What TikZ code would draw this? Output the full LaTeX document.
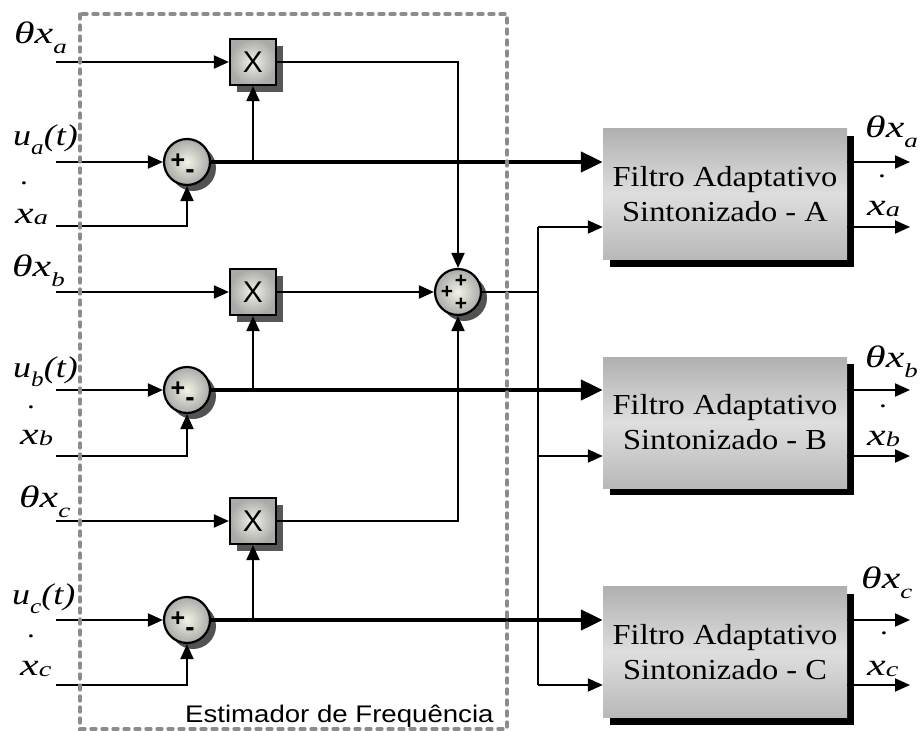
\documentclass[tikz,border=0pt]{standalone}
\usepackage{fontspec}
\setmainfont{Liberation Serif}[FakeStretch=1.2]
\newfontfamily\labf{Liberation Serif}[FakeStretch=1.35]
\newfontfamily\filtf{Liberation Serif}[FakeStretch=1.12]
\newfontfamily\sansf{Liberation Sans}
\newfontfamily\sansw{Liberation Sans}[FakeStretch=1.15]
\usetikzlibrary{arrows.meta,shadows,calc}
\definecolor{glow}{RGB}{242,242,230}
\definecolor{gedge}{RGB}{170,170,168}
\definecolor{ftop}{RGB}{176,176,176}
\definecolor{fmid}{RGB}{222,222,222}
\definecolor{fbot}{RGB}{184,184,184}
\definecolor{dashgray}{RGB}{140,140,140}
\newcommand{\lab}[2]{\labf\fontsize{31}{31}\selectfont\itshape #1\raisebox{-10pt}{\fontsize{20}{20}\selectfont #2}}
\newcommand{\labx}[2]{\labf\fontsize{31}{31}\selectfont\itshape #1\raisebox{-1.5pt}{\fontsize{21}{21}\selectfont #2}}
\newcommand{\labu}[1]{\fontsize{30}{30}\selectfont\itshape u\raisebox{-9pt}{\fontsize{21}{21}\selectfont #1}(t)}
\newcommand{\derdot}{\fontsize{26}{26}\selectfont .}
\tikzset{
  wire/.style={line width=2pt},
  arr/.style={line width=2pt, -{Triangle[length=15pt,width=13pt]}},
  barr/.style={line width=4.5pt, -{Triangle[length=22pt,width=20pt]}},
  xbox/.style={rectangle, draw, line width=2.2pt, minimum size=46pt, inner sep=0pt,
    inner color=glow, outer color=gedge,
    drop shadow={shadow xshift=7pt, shadow yshift=-7pt, fill=black!66, opacity=1},
    font=\sansf\fontsize{30}{30}\selectfont},
  sumc/.style={circle, draw, line width=2.2pt, minimum size=46pt, inner sep=0pt,
    inner color=glow, outer color=gedge,
    drop shadow={shadow xshift=6pt, shadow yshift=-6pt, fill=black!68, opacity=1}},
  sgn/.style={inner sep=0pt, font=\sansf\bfseries\fontsize{25}{25}\selectfont},
  sgs/.style={inner sep=0pt, font=\sansf\bfseries\fontsize{21}{21}\selectfont},
  msgn/.style={inner sep=0pt, font=\sansf\bfseries\fontsize{28}{28}\selectfont},
  filt/.style={rectangle, minimum width=244pt, minimum height=131pt, inner sep=0pt,
    top color=ftop, bottom color=fbot, middle color=fmid, align=center,
    drop shadow={shadow xshift=7pt, shadow yshift=-7pt, fill=black, opacity=1},
    font=\filtf\fontsize{29}{35}\selectfont},
  lbl/.style={anchor=base west, inner sep=0pt},
  dashbox/.style={draw=dashgray, line width=3.3pt, line cap=round, dash pattern=on 5pt off 6pt}
}
\begin{document}
\begin{tikzpicture}[x=1pt,y=-1pt]
\useasboundingbox (0,0) rectangle (922,731);
% blocks
\node[xbox] (Xa) at (253,62) {X};
\node[xbox] (Xb) at (253,292) {X};
\node[xbox] (Xc) at (253,521) {X};
\node[sumc] (Sa) at (187,162) {};
\node[sumc] (Sb) at (187,390) {};
\node[sumc] (Sc) at (187,620) {};
\node[sumc] (S3) at (458,292) {};
\foreach \s in {Sa,Sb,Sc}{
  \node[sgn] at ($(\s)+(-9,-1)$) {+};
  \node[msgn] at ($(\s)+(3,12)$) {-};
}
\node[sgs] at ($(S3)+(3,-11)$) {+};
\node[sgs] at ($(S3)+(-11,0)$) {+};
\node[sgs] at ($(S3)+(3,12)$) {+};
\node[filt] (FA) at (725,194) {Filtro Adaptativo\\Sintonizado - A};
\node[filt] (FB) at (725,422.5) {Filtro Adaptativo\\Sintonizado - B};
\node[filt] (FC) at (725,652) {Filtro Adaptativo\\Sintonizado - C};
% coordinates
\coordinate (ita) at (56,62);  \coordinate (iua) at (56,162); \coordinate (ixa) at (56,226);
\coordinate (itb) at (56,292); \coordinate (iub) at (56,390); \coordinate (ixb) at (56,456);
\coordinate (itc) at (56,521); \coordinate (iuc) at (56,620); \coordinate (ixc) at (56,685);
\coordinate (bA) at (538,227); \coordinate (bB) at (538,456); \coordinate (bC) at (538,685);
\coordinate (oA1) at (910,162); \coordinate (oA2) at (910,227);
\coordinate (oB1) at (910,390); \coordinate (oB2) at (910,456);
\coordinate (oC1) at (910,620); \coordinate (oC2) at (910,685);
% connectors
\foreach \r in {a,b,c}{
  \draw[arr] (it\r) -- (X\r.west);
  \draw[arr] (iu\r) -- (S\r.west);
  \draw[arr] (ix\r) -| (S\r.south);
  \draw[arr] (X\r.south |- S\r.east) -- (X\r.south);
}
\draw[barr] (Sa.east) -- (Sa.east -| FA.west);
\draw[barr] (Sb.east) -- (Sb.east -| FB.west);
\draw[barr] (Sc.east) -- (Sc.east -| FC.west);
\draw[arr] (Xa.east) -| (S3.north);
\draw[arr] (Xb.east) -- (S3.west);
\draw[arr] (Xc.east) -| (S3.south);
\draw[wire] (S3.east) -- (S3.east -| bA);
\draw[wire] (bA) -- (bC);
\draw[arr] (bA) -- (bA -| FA.west);
\draw[arr] (bB) -- (bB -| FB.west);
\draw[arr] (bC) -- (bC -| FC.west);
\draw[arr] (oA1 -| FA.east) -- (oA1);
\draw[arr] (oA2 -| FA.east) -- (oA2);
\draw[arr] (oB1 -| FB.east) -- (oB1);
\draw[arr] (oB2 -| FB.east) -- (oB2);
\draw[arr] (oC1 -| FC.east) -- (oC1);
\draw[arr] (oC2 -| FC.east) -- (oC2);
% left labels
\node[lbl] (Lta) at (14,43) {\lab{θx}{a}};
\node[lbl] (Lua) at (13,145) {\labu{a}};
\node[lbl] (Lda) at (20,184) {\derdot};
\node[lbl] (Lxa) at (15,223) {\labx{x}{a}};
\node[lbl] (Ltb) at (12,276) {\lab{θx}{b}};
\node[lbl] (Lub) at (13,377) {\labu{b}};
\node[lbl] (Ldb) at (27,408) {\derdot};
\node[lbl] (Lxb) at (20,444) {\labx{x}{b}};
\node[lbl] (Ltc) at (19,507) {\lab{θx}{c}};
\node[lbl] (Luc) at (12,604) {\labu{c}};
\node[lbl] (Ldc) at (27,637) {\derdot};
\node[lbl] (Lxc) at (20,675) {\labx{x}{c}};
% right labels
\node[lbl] (Rta) at (865,137) {\lab{θx}{a}};
\node[lbl] (Rda) at (878,177) {\derdot};
\node[lbl] (Rxa) at (867,215) {\labx{x}{a}};
\node[lbl] (Rtb) at (865,367) {\lab{θx}{b}};
\node[lbl] (Rdb) at (879,407) {\derdot};
\node[lbl] (Rxb) at (867,445) {\labx{x}{b}};
\node[lbl] (Rtc) at (861,588) {\lab{θx}{c}};
\node[lbl] (Rdc) at (880,634) {\derdot};
\node[lbl] (Rxc) at (867,675) {\labx{x}{c}};
% estimator frame
\draw[dashbox] (80,14) rectangle (507,729);
\node[lbl] (est) at (185,722) {\sansw\fontsize{24}{24}\selectfont Estimador de Frequência};
\end{tikzpicture}
\end{document}
